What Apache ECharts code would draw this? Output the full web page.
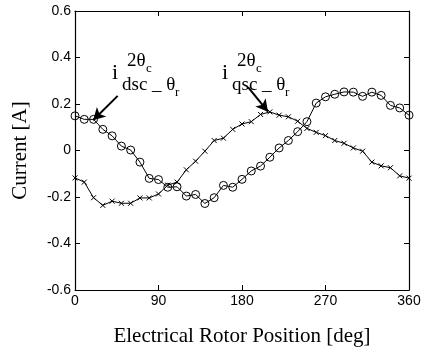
<!DOCTYPE html>
<html>
<head>
<meta charset="utf-8">
<script src="https://cdn.jsdelivr.net/npm/echarts@6/dist/echarts.min.js"></script>
<style>
  html, body { margin: 0; padding: 0; background: #fff; }
  #chart { width: 425px; height: 352px; }
</style>
</head>
<body>
<div id="chart"></div>
<script>
// rotor position in degrees, every 10 deg
const positions = [0, 10, 20, 30, 40, 50, 60, 70, 80, 90, 100, 110, 120, 130, 140, 150, 160, 170, 180,
  190, 200, 210, 220, 230, 240, 250, 260, 270, 280, 290, 300, 310, 320, 330, 340, 350, 360];

// i_dsc (circles)
const dscValues = [0.149, 0.134, 0.134, 0.091, 0.063, 0.019, 0.002, -0.050, -0.120, -0.125, -0.158, -0.156, -0.196,
  -0.189, -0.228, -0.203, -0.150, -0.158, -0.124, -0.088, -0.067, -0.029, 0.011, 0.043, 0.081,
  0.124, 0.204, 0.231, 0.242, 0.252, 0.251, 0.233, 0.251, 0.237, 0.194, 0.183, 0.152];

// i_qsc (crosses)
const qscValues = [-0.118, -0.136, -0.203, -0.236, -0.218, -0.227, -0.227, -0.204, -0.204, -0.187, -0.149, -0.136, -0.083,
  -0.046, -0.003, 0.043, 0.053, 0.091, 0.114, 0.124, 0.155, 0.166, 0.152, 0.145, 0.126,
  0.095, 0.078, 0.064, 0.043, 0.031, 0.011, -0.003, -0.050, -0.066, -0.074, -0.109, -0.119];

const xTicks = [0, 90, 180, 270, 360];
const yTicks = [-0.6, -0.4, -0.2, 0, 0.2, 0.4, 0.6];

// arrow endpoints for the annotations, in data units
const dscArrow = [[46, 0.235], [19.5, 0.13]];
const qscArrow = [[186.5, 0.273], [208, 0.167]];

const chart = echarts.init(document.getElementById('chart'), null, { renderer: 'canvas' });

const tickFont = { fontFamily: 'Liberation Sans', fontSize: 14, color: '#000' };
const serif = 'Liberation Serif';
const crossPath = 'path://M0,0L10,10M10,0L0,10';

const boxAxis = (extra) => Object.assign({
  axisLine: { show: true, onZero: false, lineStyle: { color: '#000', width: 1.2 } },
  axisTick: { show: true, inside: true, length: 5, lineStyle: { color: '#000' } },
  splitLine: { show: false }
}, extra);

const pair = (a) => a.map(p => ({ coord: p }));

const options = {
  animation: false,
  grid: { left: 75, right: 16, top: 11, bottom: 58 },
  xAxis: [
    boxAxis({
      type: 'value', min: 0, max: 360, interval: 90, position: 'bottom',
      axisLabel: Object.assign({ margin: 4 }, tickFont),
      name: 'Electrical Rotor Position [deg]', nameLocation: 'middle', nameGap: 36,
      nameTextStyle: { fontFamily: serif, fontSize: 21, color: '#000' }
    }),
    boxAxis({ type: 'value', min: 0, max: 360, interval: 90, position: 'top', axisLabel: { show: false } })
  ],
  yAxis: [
    boxAxis({
      type: 'value', min: -0.6, max: 0.6, interval: 0.2, position: 'left',
      axisLabel: Object.assign({ margin: 4, formatter: v => {
        const r = Math.round(v * 10) / 10;
        return yTicks.indexOf(r) >= 0 ? (r === 0 ? '0' : r.toFixed(1)) : '';
      } }, tickFont),
      name: 'Current [A]', nameLocation: 'middle', nameGap: 44, nameRotate: 90,
      nameTextStyle: { fontFamily: serif, fontSize: 21, color: '#000' }
    }),
    boxAxis({ type: 'value', min: -0.6, max: 0.6, interval: 0.2, position: 'right', axisLabel: { show: false } })
  ],
  series: [
    {
      name: 'dsc',
      type: 'line',
      data: positions.map((p, i) => [p, dscValues[i]]),
      symbol: 'circle',
      symbolSize: 8,
      itemStyle: { color: 'rgba(0,0,0,0)', borderColor: '#000', borderWidth: 1 },
      lineStyle: { color: '#000', width: 1 },
      markLine: {
        silent: true, symbol: ['none', 'arrow'], symbolSize: [10, 12],
        lineStyle: { color: '#000', width: 2, type: 'solid' }, label: { show: false },
        data: [pair(dscArrow)]
      }
    },
    {
      name: 'qsc',
      type: 'line',
      data: positions.map((p, i) => [p, qscValues[i]]),
      symbol: crossPath,
      symbolSize: 5,
      itemStyle: { color: 'rgba(0,0,0,0)', borderColor: '#000', borderWidth: 1 },
      lineStyle: { color: '#000', width: 1 },
      markLine: {
        silent: true, symbol: ['none', 'arrow'], symbolSize: [10, 12],
        lineStyle: { color: '#000', width: 2, type: 'solid' }, label: { show: false },
        data: [pair(qscArrow)]
      }
    }
  ],
  graphic: [
    // i_dsc label
    { type: 'text', left: 112, top: 62, style: { text: 'i', font: '22px ' + serif, fill: '#000' } },
    { type: 'text', left: 127, top: 52, style: { text: '2θ', font: '19px ' + serif, fill: '#000' } },
    { type: 'text', left: 146, top: 62, style: { text: 'c', font: '13px ' + serif, fill: '#000' } },
    { type: 'text', left: 122, top: 76, style: { text: 'dsc _ θ', font: '19px ' + serif, fill: '#000' } },
    { type: 'text', left: 175, top: 86, style: { text: 'r', font: '13px ' + serif, fill: '#000' } },
    // i_qsc label
    { type: 'text', left: 222, top: 62, style: { text: 'i', font: '22px ' + serif, fill: '#000' } },
    { type: 'text', left: 237, top: 52, style: { text: '2θ', font: '19px ' + serif, fill: '#000' } },
    { type: 'text', left: 256, top: 62, style: { text: 'c', font: '13px ' + serif, fill: '#000' } },
    { type: 'text', left: 232, top: 76, style: { text: 'qsc _ θ', font: '19px ' + serif, fill: '#000' } },
    { type: 'text', left: 285, top: 86, style: { text: 'r', font: '13px ' + serif, fill: '#000' } }
  ]
};

chart.setOption(options);
</script>
</body>
</html>
